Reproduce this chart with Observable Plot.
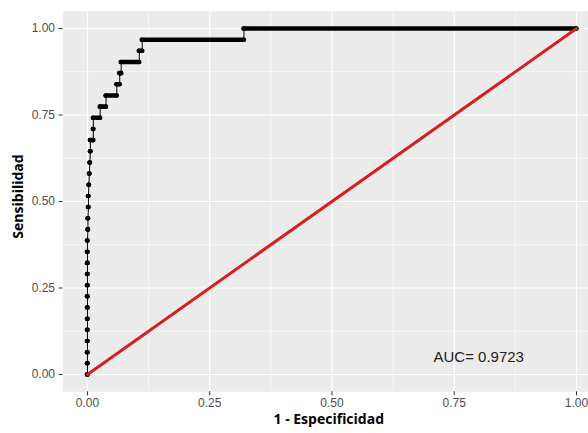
<!DOCTYPE html>
<html><head><meta charset="utf-8">
<script src="https://cdn.jsdelivr.net/npm/d3@7"></script>
<script src="https://cdn.jsdelivr.net/npm/@observablehq/plot@0.6"></script>
<style>body{margin:0;background:#fff;}</style>
</head><body><div id="chart"></div>
<script>
// ROC curve: each sensitivity level with the run of (1 - specificity) values it spans
const tpr = [0, 0.0323, 0.0645, 0.0968, 0.1290, 0.1613, 0.1935, 0.2258, 0.2581, 0.2903,
  0.3226, 0.3548, 0.3871, 0.4194, 0.4516, 0.4839, 0.5161, 0.5484, 0.5806, 0.6129,
  0.6452, 0.6774, 0.7097, 0.7419, 0.7742, 0.8065, 0.8387, 0.8710, 0.9032, 0.9355,
  0.9677, 1.0];
const fprFrom = [0, 0, 0, 0, 0, 0, 0, 0, 0, 0,
  0, 0, 0, 0.001, 0.001, 0.002, 0.002, 0.003, 0.004, 0.005,
  0.006, 0.006, 0.012, 0.012, 0.026, 0.038, 0.060, 0.066, 0.069, 0.106,
  0.112, 0.320];
const fprTo = [0, 0, 0, 0, 0, 0, 0, 0, 0, 0,
  0, 0, 0, 0.001, 0.001, 0.002, 0.002, 0.003, 0.004, 0.005,
  0.006, 0.012, 0.012, 0.026, 0.038, 0.060, 0.066, 0.069, 0.106, 0.112,
  0.320, 1.0];
const majorTicks = [0, 0.25, 0.5, 0.75, 1];
const minorTicks = [0.125, 0.375, 0.625, 0.875];
const tickLabels = ["0.00", "0.25", "0.50", "0.75", "1.00"];
const diagX = [0, 1];
const diagY = [0, 1];
const aucLabel = "AUC= 0.9723";
const aucX = 0.8;
const aucY = 0.05;
const xTitle = "1 - Especificidad";
const yTitle = "Sensibilidad";

const runs = tpr.map((y, i) => ({y, x1: fprFrom[i], x2: fprTo[i]}));
const path = runs.flatMap(d => [{x: d.x1, y: d.y}, {x: d.x2, y: d.y}]);
const diag = diagX.map((x, i) => ({x, y: diagY[i]}));
const fmt = d => tickLabels[majorTicks.indexOf(d)];
const titleFont = "'Open Sans', 'Noto Sans', sans-serif";

const chart = Plot.plot({
  width: 588, height: 433,
  marginLeft: 62.5, marginRight: 0, marginTop: 10.7, marginBottom: 41.7,
  x: {domain: [-0.05, 1.0245]},
  y: {domain: [-0.05, 1.05]},
  style: {fontFamily: "'Liberation Sans', Arial, sans-serif", background: "#fff"},
  marks: [
    Plot.frame({fill: "#EBEBEB", stroke: "none"}),
    Plot.ruleX(minorTicks, {x: d => d, stroke: "#fff", strokeWidth: 0.6}),
    Plot.ruleY(minorTicks, {y: d => d, stroke: "#fff", strokeWidth: 0.6}),
    Plot.ruleX(majorTicks, {x: d => d, stroke: "#fff", strokeWidth: 1.2}),
    Plot.ruleY(majorTicks, {y: d => d, stroke: "#fff", strokeWidth: 1.2}),
    Plot.axisX(majorTicks, {tickFormat: fmt, tickSize: 4, tickPadding: 3, stroke: "#333", fill: "#4D4D4D", fontSize: 12, label: null}),
    Plot.axisY(majorTicks, {tickFormat: fmt, tickSize: 4, tickPadding: 4, stroke: "#333", fill: "#4D4D4D", fontSize: 12, label: null}),
    Plot.line(path, {x: "x", y: "y", stroke: "#000", strokeWidth: 1}),
    Plot.ruleY(runs, {y: "y", x1: "x1", x2: "x2", stroke: "#000", strokeWidth: 4.6, strokeLinecap: "round"}),
    Plot.dot(path, {x: "x", y: "y", r: 2.3, fill: "#000"}),
    Plot.line(diag, {x: "x", y: "y", stroke: "#d61f1f", strokeWidth: 3}),
    Plot.text([{x: aucX, y: aucY, t: aucLabel}], {x: "x", y: "y", text: "t", fontSize: 15, fill: "#222"}),
    Plot.text([xTitle], {text: d => d, frameAnchor: "bottom", textAnchor: "middle", dy: 32, dx: 3, fontSize: 14, fontWeight: "bold", fontFamily: titleFont, fill: "#000"}),
    Plot.text([yTitle], {text: d => d, frameAnchor: "left", textAnchor: "middle", dx: -44, dy: -5, rotate: -90, fontSize: 14, fontWeight: "bold", fontFamily: titleFont, fill: "#000"})
  ]
});
document.getElementById("chart").appendChild(chart);
</script>
</body></html>
